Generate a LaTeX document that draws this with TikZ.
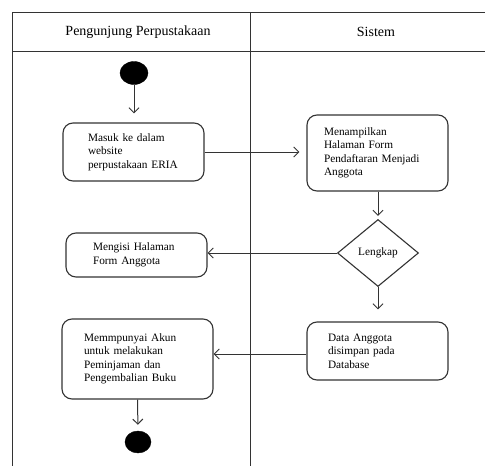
\documentclass[tikz,border=0pt]{standalone}
\usepackage{fontspec}
\setmainfont{Liberation Serif}
\usetikzlibrary{arrows.meta,shapes.geometric}
\definecolor{ink}{HTML}{333333}
\tikzset{
  act/.style={draw=ink, line width=1.1pt, rounded corners=10pt, inner xsep=0pt,
    inner ysep=0pt, align=left, font=\fontsize{11.3}{13.5}\selectfont, text=black},
  bullet/.style={ellipse, fill=black, draw=black, inner sep=0pt},
  decision/.style={diamond, draw=ink, line width=1.1pt, inner sep=0pt,
    font=\fontsize{11.3}{13.5}\selectfont},
  flow/.style={draw=ink, line width=1pt, -{Straight Barb[length=5pt,width=10pt]}},
  lane/.style={draw=ink, line width=1pt},
  head/.style={font=\fontsize{14}{16}\selectfont, text=black, inner sep=0pt}
}
\begin{document}
\begin{tikzpicture}[x=1pt,y=-1pt]
\useasboundingbox (0,0) rectangle (485,466);
\fill[white] (0,0) rectangle (485,466);

% swimlane frame
\draw[lane] (485,12) -- (12,12) -- (12,466);
\draw[lane] (12,51) -- (485,51);
\draw[lane] (250,12) -- (250,466);
\node[head] (laneA) at (138,32) {Pengunjung Perpustakaan};
\node[head] (laneB) at (376,32) {Sistem};

% activities
\node[bullet, minimum width=28pt, minimum height=23pt] (start) at (134,73) {};
\node[act, minimum width=141pt, minimum height=58pt, text width=91pt] (masuk) at (133.5,152)
  {Masuk ke dalam\\website\\perpustakaan ERIA};
\node[act, minimum width=141pt, minimum height=76pt, text width=107pt] (tampil) at (377.5,153)
  {Menampilkan\\Halaman Form\\Pendaftaran Menjadi\\Anggota};
\node[decision, minimum width=81pt, minimum height=67pt] (lengkap) at (378,253) {Lengkap};
\node[act, minimum width=141pt, minimum height=44pt, text width=87pt] (isi) at (136.5,255)
  {Mengisi Halaman\\Form Anggota};
\node[act, minimum width=141pt, minimum height=58pt, text width=99pt] (simpan) at (377.5,351)
  {Data Anggota\\disimpan pada\\Database};
\node[act, minimum width=151pt, minimum height=80pt, text width=107pt] (akun) at (137.5,359)
  {Memmpunyai Akun\\untuk melakukan\\Peminjaman dan\\Pengembalian Buku};
\node[bullet, minimum width=26pt, minimum height=22pt] (stop) at (138,442) {};

% control flow
\draw[flow, shorten >=9pt] (start) -- (start |- masuk.north);
\draw[flow, shorten >=7pt] (masuk.east) -- (masuk.east -| tampil.west);
\draw[flow, shorten >=3pt] (tampil.south -| lengkap) -- (lengkap.north);
\draw[flow] (lengkap.west) -- (lengkap.west -| isi.east);
\draw[flow, shorten >=12pt] (lengkap.south) -- (lengkap.south |- simpan.north);
\draw[flow] ([yshift=-3pt]simpan.west) -- ([yshift=-3pt]simpan.west -| akun.east);
\draw[flow, shorten >=6pt] (akun.south) -- (stop.north);
\end{tikzpicture}
\end{document}
